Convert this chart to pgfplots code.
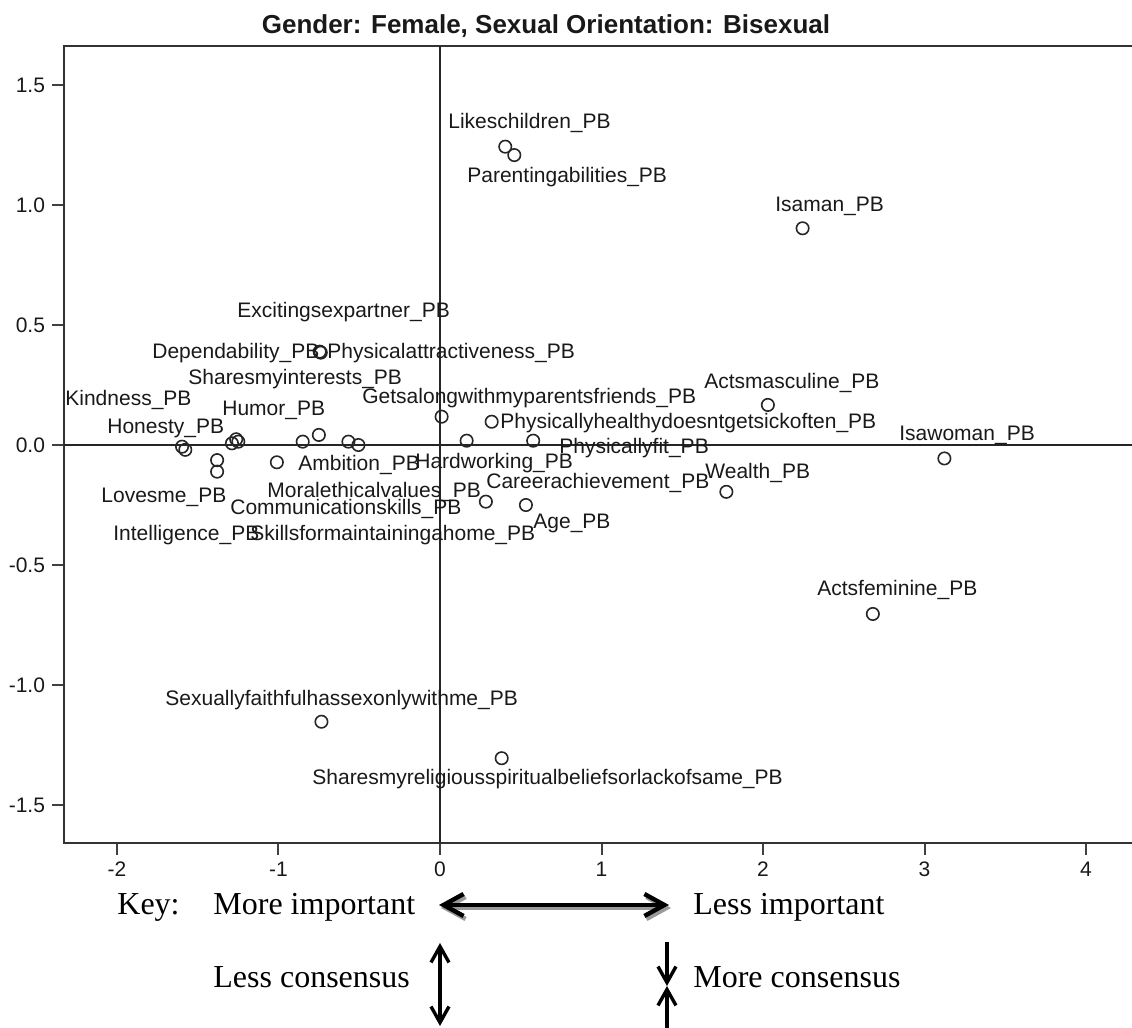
\documentclass[border=0pt]{standalone}
\usepackage{fontspec}
\setmainfont{Liberation Sans}
\newfontfamily\keyfont{Liberation Serif}
\usepackage{pgfplots}
\pgfplotsset{compat=1.18}
\usetikzlibrary{arrows.meta}

\begin{document}
\begin{tikzpicture}
\begin{axis}[
    at={(32bp,-421.5bp)}, anchor=south west,
    width=543bp, height=398.5bp, scale only axis,
    xmin=-2.328, xmax=4.396,
    ymin=-1.6583, ymax=1.6625,
    xtick={-2,-1,0,1,2,3,4},
    ytick={-1.5,-1.0,-0.5,0,0.5,1.0,1.5},
    tick pos=left,
    tick align=outside,
    major tick length=6bp,
    tick style={black!75, line width=1bp},
    axis line style={black!80, line width=1.2bp},
    tick label style={font=\fontsize{10.5bp}{12bp}\selectfont, black!90},
    /pgf/number format/assume math mode=true,
    yticklabel style={/pgf/number format/.cd, fixed, fixed zerofill, precision=1},
    clip=false,
]
% zero reference lines
\draw[black!85, line width=1bp] (axis cs:0,-1.6583) -- (axis cs:0,1.6625);
\draw[black!85, line width=1bp] (axis cs:-2.328,0) -- (axis cs:4.396,0);

\addplot[only marks, mark=o, mark size=3.1bp, black!85, mark options={line width=0.8bp}] coordinates {
    (0.404,1.243) (0.460,1.208) (2.245,0.903)
    (-0.742,0.387) (-0.738,0.385) (-0.745,0.389)
    (0.010,0.118) (0.320,0.097) (2.030,0.167)
    (0.165,0.018) (0.577,0.018) (3.123,-0.056)
    (1.773,-0.195) (2.680,-0.704) (0.284,-0.236) (0.532,-0.250)
    (-0.734,-1.153) (0.382,-1.305)
    (-1.597,-0.007) (-1.577,-0.020)
    (-1.288,0.007) (-1.262,0.024) (-1.249,0.014)
    (-1.380,-0.063) (-1.380,-0.111)
    (-1.010,-0.072) (-0.850,0.014) (-0.750,0.042)
    (-0.567,0.014) (-0.505,0.000)
};
\end{axis}

\begin{scope}[x=0.5bp, y=-0.5bp, every node/.style={inner sep=0pt, black!90, font=\fontsize{10.5bp}{12bp}\selectfont}]
\node[anchor=base, font=\fontsize{13bp}{15bp}\selectfont\bfseries] at (546,33) {Gender: Female, Sexual Orientation: Bisexual};

\node[anchor=mid west] at (448,123) {Likeschildren\_PB};
\node[anchor=mid west] at (467,177) {Parentingabilities\_PB};
\node[anchor=mid west] at (775,206) {Isaman\_PB};
\node[anchor=mid west] at (237,312) {Excitingsexpartner\_PB};
\node[anchor=mid west] at (152,353) {Dependability\_PB};
\node[anchor=mid west] at (327,353) {Physicalattractiveness\_PB};
\node[anchor=mid west] at (188,379) {Sharesmyinterests\_PB};
\node[anchor=mid west] at (704,383) {Actsmasculine\_PB};
\node[anchor=mid west] at (65,400) {Kindness\_PB};
\node[anchor=mid west] at (362,398) {Getsalongwithmyparentsfriends\_PB};
\node[anchor=mid west] at (222,410) {Humor\_PB};
\node[anchor=mid west] at (500,423) {Physicallyhealthydoesntgetsickoften\_PB};
\node[anchor=mid west] at (107,428) {Honesty\_PB};
\node[anchor=mid west] at (899,435) {Isawoman\_PB};
\node[anchor=mid west] at (559,448) {Physicallyfit\_PB};
\node[anchor=mid west] at (415,463) {Hardworking\_PB};
\node[anchor=mid west] at (298,465) {Ambition\_PB};
\node[anchor=mid west] at (705,473) {Wealth\_PB};
\node[anchor=mid west] at (486,483) {Careerachievement\_PB};
\node[anchor=mid west] at (267,492) {Moralethicalvalues\_PB};
\node[anchor=mid west] at (101,497) {Lovesme\_PB};
\node[anchor=mid west] at (230,509) {Communicationskills\_PB};
\node[anchor=mid west] at (533,523) {Age\_PB};
\node[anchor=mid west] at (113,535) {Intelligence\_PB};
\node[anchor=mid west] at (250,535) {Skillsformaintainingahome\_PB};
\node[anchor=mid west] at (817,590) {Actsfeminine\_PB};
\node[anchor=mid west] at (165,700) {Sexuallyfaithfulhassexonlywithme\_PB};
\node[anchor=mid west] at (312,779) {Sharesmyreligiousspiritualbeliefsorlackofsame\_PB};

% key below the chart
\begin{scope}[every node/.style={inner sep=0pt, black, font=\keyfont\fontsize{16bp}{19bp}\selectfont}]
\node[anchor=base west] at (117,915) {Key:};
\node[anchor=base west] at (213,915) {More important};
\node[anchor=base west] at (693,915) {Less important};
\node[anchor=base west] at (213,988) {Less consensus};
\node[anchor=base west] at (693,988) {More consensus};
\end{scope}

\draw[black!40, line width=2.2bp, {Straight Barb[length=10bp, width=11bp]}-{Straight Barb[length=10bp, width=11bp]}] (441,908) -- (671,908);
\draw[black, line width=2.2bp, {Straight Barb[length=10bp, width=11bp]}-{Straight Barb[length=10bp, width=11bp]}] (439,905) -- (669,905);

\draw[black, line width=1.7bp, {Straight Barb[length=8bp, width=9bp]}-{Straight Barb[length=8bp, width=9bp]}] (440,943) -- (440,1026);
\draw[black, line width=1.7bp, -{Straight Barb[length=8bp, width=9bp]}] (667,942) -- (667,986);
\draw[black, line width=1.7bp, -{Straight Barb[length=8bp, width=9bp]}] (667,1030) -- (667,986);
\end{scope}

\pgfresetboundingbox
\path (0bp,0bp) rectangle (566bp,-514bp);
\end{tikzpicture}
\end{document}
